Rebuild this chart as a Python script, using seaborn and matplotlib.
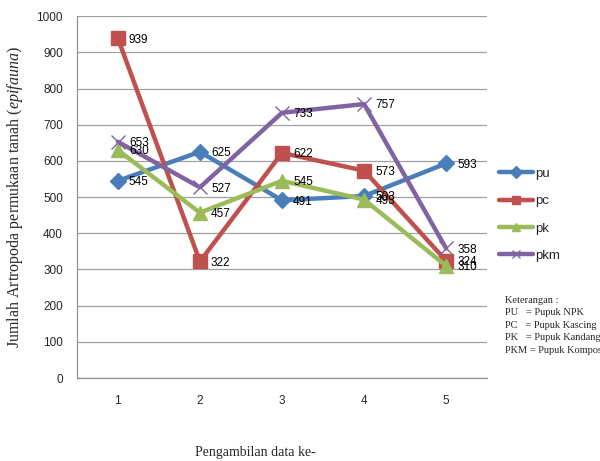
import matplotlib
matplotlib.use("Agg")
import matplotlib.pyplot as plt
import seaborn as sns
import pandas as pd
from matplotlib.lines import Line2D

sampling = [1, 2, 3, 4, 5]
pu = [545, 625, 491, 503, 593]
pc = [939, 322, 622, 573, 324]
pk = [630, 457, 545, 493, 310]
pkm = [653, 527, 733, 757, 358]

series_names = ["pu", "pc", "pk", "pkm"]
series_values = [pu, pc, pk, pkm]
colors = {"pu": "#4A7EBB", "pc": "#C0504D", "pk": "#9BBB59", "pkm": "#8064A2"}
markers = {"pu": "D", "pc": "s", "pk": "^", "pkm": "x"}
msizes = {"pu": 8, "pc": 10, "pk": 10, "pkm": 10}

rows = []
for name, vals in zip(series_names, series_values):
    for x, v in zip(sampling, vals):
        rows.append({"ambil": x, "jumlah": v, "seri": name})
df = pd.DataFrame(rows)

sns.set_theme(style="white")
plt.rcParams["font.family"] = ["Liberation Sans", "DejaVu Sans"]
plt.rcParams["mathtext.fontset"] = "custom"
plt.rcParams["mathtext.it"] = "Liberation Serif:italic"
plt.rcParams["mathtext.rm"] = "Liberation Serif"

fig = plt.figure(figsize=(6.0, 4.61), dpi=100)
ax = fig.add_axes([0.128, 0.180, 0.684, 0.785])

for name in series_names:
    sub = df[df["seri"] == name]
    sns.lineplot(data=sub, x="ambil", y="jumlah", ax=ax, color=colors[name],
                 linewidth=3.2, marker=markers[name], markersize=msizes[name],
                 markeredgecolor=colors[name], markeredgewidth=1.0,
                 legend=False)
    for x, v in zip(sampling, sub["jumlah"]):
        ax.annotate(str(v), (x, v), xytext=(8, -1), textcoords="offset points",
                    ha="left", va="center", fontsize=8.5, color="black")

ax.set_xlim(0.5, 5.5)
ax.set_ylim(0, 1000)
ax.set_yticks(range(0, 1001, 100))
ax.set_xticks(sampling)
ax.tick_params(axis="x", labelsize=8.5, length=0, pad=12)
ax.tick_params(axis="y", labelsize=8.5, length=0, pad=10)
ax.yaxis.grid(True, color="#A0A0A0", linewidth=0.9)
ax.xaxis.grid(False)
for side in ["top", "right"]:
    ax.spines[side].set_visible(False)
for side in ["left", "bottom"]:
    ax.spines[side].set_color("#909090")
    ax.spines[side].set_linewidth(0.9)

ax.set_xlabel("")
ax.set_ylabel(r"Jumlah Artropoda permukaan tanah ($\it{epifauna}$)",
              fontsize=11.5, family="Liberation Serif", labelpad=8)
fig.text(0.425, 0.005, "Pengambilan data ke-", fontsize=10,
         family="Liberation Serif", ha="center", va="bottom")

handles = [Line2D([0], [0], color=colors[n], linewidth=3.2, marker=markers[n],
                  markersize=6, markeredgecolor=colors[n]) for n in series_names]
fig.legend(handles, series_names, loc="upper left", bbox_to_anchor=(0.823, 0.648),
           frameon=False, fontsize=9.5, handlelength=2.6, handletextpad=0.1,
           labelspacing=1.15, borderaxespad=0)

keterangan = ("Keterangan :\nPU   = Pupuk NPK\nPC   = Pupuk Kascing\n"
              "PK   = Pupuk Kandang\nPKM = Pupuk Kompos")
fig.text(0.842, 0.358, keterangan, fontsize=7.5, family="Liberation Serif",
         ha="left", va="top", linespacing=1.5)

fig.savefig("out.png", dpi=100)
